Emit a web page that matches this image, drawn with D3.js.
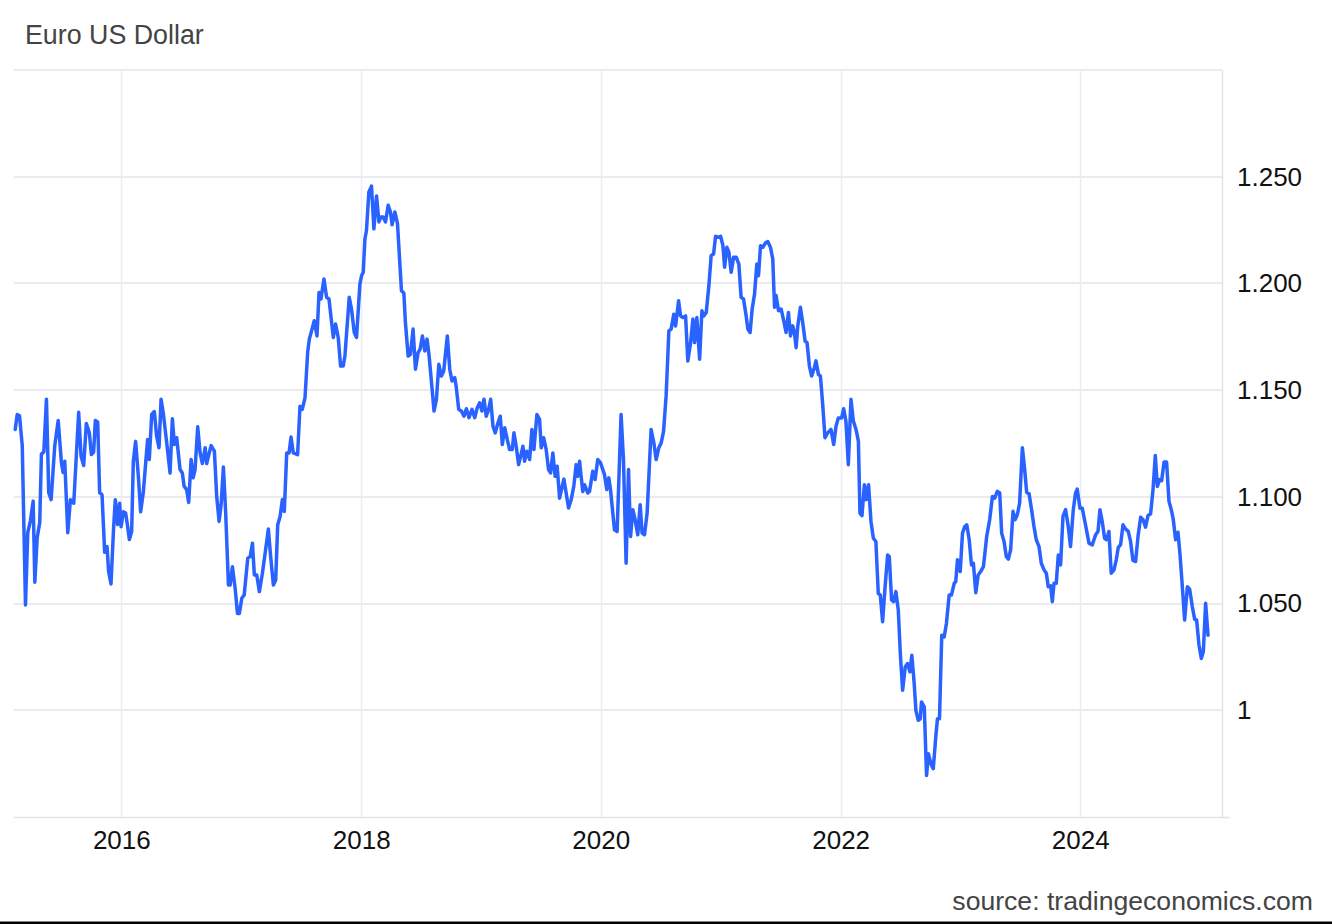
<!DOCTYPE html>
<html>
<head>
<meta charset="utf-8">
<script src="https://cdn.jsdelivr.net/npm/d3@7"></script>
<style>
  html, body { margin: 0; padding: 0; background: #fff; }
  svg { display: block; font-family: "Liberation Sans", Arial, Helvetica, sans-serif; }
</style>
</head>
<body>
<svg id="chart" width="1332" height="924"></svg>
<script>
// ---- data (decimal years, EUR/USD) ----
const years = [
2015.114,2015.131,2015.150,2015.173,2015.200,2015.219,2015.242,2015.264,2015.278,2015.298,
2015.319,2015.333,2015.353,2015.375,2015.394,2015.414,2015.444,2015.473,2015.500,2015.514,
2015.528,2015.553,2015.575,2015.603,2015.644,2015.664,2015.686,2015.708,2015.733,2015.750,
2015.769,2015.783,2015.803,2015.819,2015.839,2015.861,2015.881,2015.894,2015.914,2015.936,
2015.950,2015.969,2015.986,2015.998,
2016.017,2016.036,2016.053,2016.067,2016.086,2016.100,2016.119,2016.142,2016.161,2016.183,
2016.203,2016.219,2016.233,2016.253,2016.275,2016.294,2016.314,2016.331,2016.350,2016.378,
2016.406,2016.425,2016.442,2016.461,2016.489,2016.508,2016.523,2016.544,2016.561,2016.581,
2016.598,2016.614,2016.636,2016.656,2016.675,2016.698,2016.711,2016.725,2016.748,2016.775,
2016.794,2016.814,2016.831,2016.850,2016.869,2016.892,2016.906,2016.925,2016.948,2016.967,
2016.983,
2017.003,2017.023,2017.053,2017.073,2017.092,2017.108,2017.128,2017.150,2017.175,2017.198,
2017.225,2017.244,2017.267,2017.286,2017.303,2017.323,2017.342,2017.358,2017.378,2017.398,
2017.414,2017.433,2017.469,2017.489,2017.508,2017.531,2017.553,2017.567,2017.586,2017.608,
2017.631,2017.648,2017.664,2017.689,2017.711,2017.731,2017.753,2017.767,2017.786,2017.808,
2017.828,2017.850,2017.864,2017.900,2017.919,2017.942,2017.961,2017.989,
2018.003,2018.017,2018.031,2018.044,2018.064,2018.086,2018.106,2018.128,2018.148,2018.164,
2018.183,2018.203,2018.225,2018.244,2018.258,2018.281,2018.303,2018.317,2018.336,2018.356,
2018.369,2018.392,2018.411,2018.433,2018.453,2018.475,2018.492,2018.511,2018.531,2018.550,
2018.567,2018.592,2018.608,2018.628,2018.648,2018.669,2018.689,2018.719,2018.739,2018.758,
2018.781,2018.794,2018.814,2018.836,2018.858,2018.878,2018.900,2018.925,2018.948,2018.969,
2018.989,
2019.008,2019.025,2019.044,2019.064,2019.081,2019.100,2019.119,2019.142,2019.161,2019.178,
2019.198,2019.219,2019.239,2019.261,2019.275,2019.294,2019.314,2019.331,2019.350,2019.364,
2019.383,2019.406,2019.425,2019.442,2019.467,2019.489,2019.503,2019.523,2019.544,2019.564,
2019.581,2019.600,2019.619,2019.636,2019.656,2019.675,2019.692,2019.711,2019.731,2019.753,
2019.775,2019.794,2019.808,2019.823,2019.836,2019.850,2019.864,2019.892,2019.906,2019.933,
2019.953,2019.975,2019.998,
2020.031,2020.050,2020.067,2020.081,2020.114,2020.136,2020.169,2020.189,2020.211,2020.231,
2020.248,2020.267,2020.286,2020.308,2020.328,2020.344,2020.364,2020.386,2020.419,2020.442,
2020.461,2020.483,2020.503,2020.523,2020.544,2020.567,2020.586,2020.608,2020.623,2020.648,
2020.664,2020.683,2020.706,2020.725,2020.748,2020.767,2020.781,2020.800,2020.823,2020.842,
2020.858,2020.878,2020.900,2020.919,2020.939,2020.956,2020.975,2020.998,
2021.017,2021.031,2021.050,2021.067,2021.086,2021.106,2021.128,2021.150,2021.169,2021.189,
2021.211,2021.225,2021.244,2021.261,2021.281,2021.300,2021.314,2021.331,2021.350,2021.373,
2021.392,2021.414,2021.433,2021.448,2021.461,2021.481,2021.503,2021.525,2021.544,2021.564,
2021.581,2021.600,2021.614,2021.628,2021.642,2021.664,2021.683,2021.703,2021.719,2021.739,
2021.758,2021.781,2021.794,2021.814,2021.831,2021.850,2021.869,2021.892,2021.919,2021.942,
2021.961,2021.981,
2022.008,2022.025,2022.044,2022.064,2022.086,2022.106,2022.128,2022.148,2022.161,2022.178,
2022.198,2022.214,2022.233,2022.253,2022.273,2022.294,2022.314,2022.331,2022.350,2022.369,
2022.392,2022.406,2022.425,2022.442,2022.461,2022.481,2022.498,2022.517,2022.539,2022.558,
2022.578,2022.594,2022.614,2022.628,2022.648,2022.664,2022.675,2022.698,2022.717,2022.733,
2022.753,2022.773,2022.794,2022.808,2022.825,2022.844,2022.864,2022.883,2022.906,2022.925,
2022.948,2022.961,2022.975,2022.998,
2023.017,2023.036,2023.053,2023.073,2023.092,2023.108,2023.128,2023.148,2023.169,2023.192,
2023.219,2023.244,2023.267,2023.286,2023.308,2023.328,2023.344,2023.364,2023.383,2023.400,
2023.419,2023.439,2023.456,2023.475,2023.494,2023.517,2023.536,2023.553,2023.573,2023.592,
2023.614,2023.633,2023.656,2023.675,2023.698,2023.717,2023.733,2023.753,2023.767,2023.781,
2023.800,2023.817,2023.836,2023.856,2023.878,2023.900,2023.919,2023.942,2023.961,2023.975,
2023.998,
2024.017,2024.044,2024.073,2024.100,2024.128,2024.148,2024.164,2024.183,2024.203,2024.219,
2024.239,2024.258,2024.281,2024.300,2024.317,2024.336,2024.356,2024.378,2024.400,2024.419,
2024.439,2024.461,2024.481,2024.503,2024.523,2024.544,2024.564,2024.586,2024.606,2024.625,
2024.642,2024.661,2024.678,2024.698,2024.719,2024.739,2024.758,2024.775,2024.794,2024.814,
2024.831,2024.850,2024.869,2024.892,2024.911,2024.933,2024.953,2024.969,2024.989,
2025.008,2025.025,2025.044,2025.064
];
const rates = [
1.1316,1.1386,1.1380,1.1240,1.0493,1.0832,1.0890,1.0980,1.0600,1.0810,
1.0880,1.1200,1.1210,1.1457,1.1020,1.0987,1.1237,1.1358,1.1160,1.1114,
1.1167,1.0832,1.0987,1.0970,1.1396,1.1190,1.1147,1.1344,1.1300,1.1198,
1.1210,1.1358,1.1350,1.1020,1.1010,1.0740,1.0767,1.0650,1.0592,1.0860,
1.0987,1.0870,1.0970,1.0860,
1.0930,1.0924,1.0860,1.0800,1.0838,1.1167,1.1260,1.1096,1.0930,1.1020,
1.1160,1.1269,1.1175,1.1386,1.1400,1.1284,1.1230,1.1457,1.1390,1.1253,
1.1112,1.1366,1.1245,1.1277,1.1128,1.1112,1.1050,1.1034,1.0974,1.1175,
1.1089,1.1128,1.1328,1.1206,1.1156,1.1230,1.1156,1.1190,1.1240,1.1214,
1.1003,1.0885,1.0963,1.1140,1.0924,1.0587,1.0587,1.0673,1.0570,1.0454,
1.0454,
1.0525,1.0540,1.0713,1.0720,1.0783,1.0634,1.0634,1.0556,1.0642,1.0736,
1.0849,1.0720,1.0587,1.0610,1.0869,1.0908,1.0987,1.0932,1.1206,1.1206,
1.1280,1.1206,1.1198,1.1425,1.1410,1.1465,1.1677,1.1739,1.1778,1.1825,
1.1754,1.1958,1.1927,1.2021,1.1935,1.1927,1.1817,1.1747,1.1810,1.1747,
1.1613,1.1613,1.1660,1.1935,1.1880,1.1770,1.1747,1.1997,
1.2036,1.2052,1.2209,1.2248,1.2428,1.2456,1.2256,1.2410,1.2288,1.2311,
1.2311,1.2288,1.2366,1.2335,1.2275,1.2335,1.2280,1.2146,1.1966,1.1955,
1.1817,1.1660,1.1668,1.1786,1.1598,1.1676,1.1692,1.1754,1.1684,1.1739,
1.1660,1.1504,1.1402,1.1457,1.1621,1.1566,1.1590,1.1754,1.1598,1.1543,
1.1559,1.1512,1.1410,1.1402,1.1378,1.1413,1.1371,1.1410,1.1371,1.1418,
1.1441,
1.1402,1.1457,1.1378,1.1410,1.1457,1.1331,1.1300,1.1347,1.1378,1.1245,
1.1324,1.1269,1.1222,1.1222,1.1300,1.1237,1.1151,1.1190,1.1237,1.1167,
1.1214,1.1175,1.1316,1.1222,1.1386,1.1363,1.1230,1.1277,1.1222,1.1128,
1.1112,1.1206,1.1096,1.1143,1.0994,1.1041,1.1083,1.1018,1.0948,1.0987,
1.1050,1.1151,1.1096,1.1167,1.1096,1.1025,1.1057,1.1018,1.1025,1.1120,
1.1081,1.1175,1.1159,
1.1104,1.1034,1.1089,1.1034,1.0846,1.0838,1.1386,1.1175,1.0689,1.1128,
1.0814,1.0940,1.0893,1.0822,1.0963,1.0830,1.0822,1.0924,1.1316,1.1253,
1.1175,1.1230,1.1253,1.1308,1.1473,1.1778,1.1786,1.1856,1.1801,1.1919,
1.1848,1.1840,1.1848,1.1636,1.1723,1.1833,1.1723,1.1840,1.1645,1.1872,
1.1848,1.1864,1.1989,1.2130,1.2138,1.2221,1.2216,1.2221,
1.2177,1.2076,1.2169,1.2146,1.2052,1.2123,1.2123,1.2091,1.1935,1.1927,
1.1848,1.1786,1.1770,1.1880,1.1950,1.2091,1.2036,1.2177,1.2169,1.2190,
1.2196,1.2169,1.2115,1.1888,1.1943,1.1872,1.1880,1.1825,1.1770,1.1864,
1.1754,1.1801,1.1770,1.1699,1.1801,1.1888,1.1817,1.1730,1.1723,1.1613,
1.1566,1.1606,1.1637,1.1574,1.1566,1.1433,1.1277,1.1300,1.1316,1.1245,
1.1331,1.1370,
1.1370,1.1413,1.1355,1.1151,1.1457,1.1355,1.1316,1.1261,1.0924,1.0912,
1.1057,1.0987,1.1057,1.0885,1.0806,1.0791,1.0548,1.0540,1.0415,1.0564,
1.0728,1.0720,1.0517,1.0509,1.0556,1.0470,1.0266,1.0094,1.0203,1.0219,
1.0180,1.0258,1.0125,1.0000,0.9953,0.9960,1.0039,1.0016,0.9695,0.9796,
0.9750,0.9726,0.9875,0.9960,0.9960,1.0352,1.0344,1.0407,1.0540,1.0540,
1.0595,1.0603,1.0705,1.0650,
1.0830,1.0861,1.0869,1.0799,1.0681,1.0689,1.0551,1.0634,1.0650,1.0673,
1.0814,1.0893,1.1002,1.0994,1.1026,1.1018,1.0830,1.0791,1.0720,1.0708,
1.0752,1.0932,1.0893,1.0916,1.0971,1.1230,1.1128,1.1021,1.1015,1.0947,
1.0861,1.0799,1.0767,1.0689,1.0658,1.0642,1.0579,1.0583,1.0509,1.0595,
1.0595,1.0728,1.0681,1.0908,1.0940,1.0861,1.0767,1.0940,1.1018,1.1036,
1.0947,
1.0947,1.0869,1.0783,1.0775,1.0822,1.0838,1.0940,1.0885,1.0806,1.0799,
1.0838,1.0642,1.0658,1.0705,1.0764,1.0775,1.0869,1.0849,1.0838,1.0791,
1.0702,1.0697,1.0814,1.0905,1.0893,1.0858,1.0912,1.0921,1.1034,1.1194,
1.1049,1.1081,1.1076,1.1163,1.1163,1.0979,1.0940,1.0893,1.0799,1.0834,
1.0728,1.0579,1.0423,1.0579,1.0567,1.0486,1.0426,1.0423,1.0305,
1.0243,1.0274,1.0501,1.0352
];
const yTickValues = [1.00, 1.05, 1.10, 1.15, 1.20, 1.25];
const yTickLabels = ["1", "1.050", "1.100", "1.150", "1.200", "1.250"];
const xTickYears = [2016, 2018, 2020, 2022, 2024];
const titleText = "Euro US Dollar";
const sourceText = "source: tradingeconomics.com";

// ---- helpers ----
function yearToDate(t) {
  const y = Math.floor(t);
  const s = Date.UTC(y, 0, 1), e = Date.UTC(y + 1, 0, 1);
  return new Date(s + (t - y) * (e - s));
}
const data = years.map((t, i) => ({ date: yearToDate(t), value: rates[i] }));

// ---- layout ----
const svg = d3.select("#chart");
const W = 1332, H = 924;
const plot = { left: 14, right: 1222, top: 70, bottom: 817 };

const x = d3.scaleUtc()
  .domain([new Date(Date.UTC(2015, 1, 8)), new Date(Date.UTC(2025, 2, 8))])
  .range([plot.left, plot.right]);
const y = d3.scaleLinear().domain([0.95, 1.30]).range([plot.bottom, plot.top]);

svg.append("rect").attr("width", W).attr("height", H).attr("fill", "#fff");

// horizontal grid (ticks + top border)
const gridVals = yTickValues.concat([1.30]);
svg.append("g").selectAll("line").data(gridVals).join("line")
  .attr("x1", plot.left).attr("x2", plot.right)
  .attr("y1", d => Math.round(y(d))).attr("y2", d => Math.round(y(d)))
  .attr("stroke", "#e4e4e4").attr("stroke-width", 1.5);

// vertical grid at year ticks
const xTickDates = xTickYears.map(yr => new Date(Date.UTC(yr, 0, 1)));
svg.append("g").selectAll("line").data(xTickDates).join("line")
  .attr("x1", d => Math.round(x(d)) + 0.5).attr("x2", d => Math.round(x(d)) + 0.5)
  .attr("y1", plot.top).attr("y2", plot.bottom)
  .attr("stroke", "#e9eef4").attr("stroke-width", 1.5);

// right border
svg.append("line")
  .attr("x1", plot.right + 0.5).attr("x2", plot.right + 0.5)
  .attr("y1", plot.top).attr("y2", plot.bottom)
  .attr("stroke", "#e4e4e4").attr("stroke-width", 1.5);

// bottom axis line
svg.append("line")
  .attr("x1", plot.left).attr("x2", plot.right + 8)
  .attr("y1", plot.bottom + 0.5).attr("y2", plot.bottom + 0.5)
  .attr("stroke", "#e4e4e4").attr("stroke-width", 1.5);

// y axis labels (right)
const yAxis = d3.axisRight(y).tickValues(yTickValues)
  .tickFormat((d, i) => yTickLabels[i]).tickSize(0).tickPadding(15);
const gy = svg.append("g").attr("transform", `translate(${plot.right},0)`).call(yAxis);
gy.select(".domain").remove();
gy.selectAll("text").attr("font-size", 26).attr("fill", "#111")
  .attr("font-family", "'Liberation Sans', Arial, sans-serif");

// x axis labels
const xAxis = d3.axisBottom(x).tickValues(xTickDates)
  .tickFormat(d3.utcFormat("%Y")).tickSize(0).tickPadding(14);
const gx = svg.append("g").attr("transform", `translate(0,${plot.bottom})`).call(xAxis);
gx.select(".domain").remove();
gx.selectAll("text").attr("font-size", 26).attr("fill", "#111")
  .attr("font-family", "'Liberation Sans', Arial, sans-serif");

// line
const line = d3.line().x(d => x(d.date)).y(d => y(d.value)).curve(d3.curveLinear);
svg.append("path").datum(data)
  .attr("d", line)
  .attr("fill", "none")
  .attr("stroke", "#2962ff")
  .attr("stroke-width", 3.5)
  .attr("stroke-linejoin", "round")
  .attr("stroke-linecap", "round");

// title
svg.append("text").attr("x", 25).attr("y", 44)
  .attr("font-size", 26.8).attr("fill", "#444").text(titleText);

// source
svg.append("text").attr("x", 1313).attr("y", 910).attr("text-anchor", "end")
  .attr("font-size", 26.6).attr("fill", "#444").text(sourceText);

// bottom black border
svg.append("rect").attr("x", 0).attr("y", 921.5).attr("width", W).attr("height", 2.5).attr("fill", "#000");
</script>
</body>
</html>
